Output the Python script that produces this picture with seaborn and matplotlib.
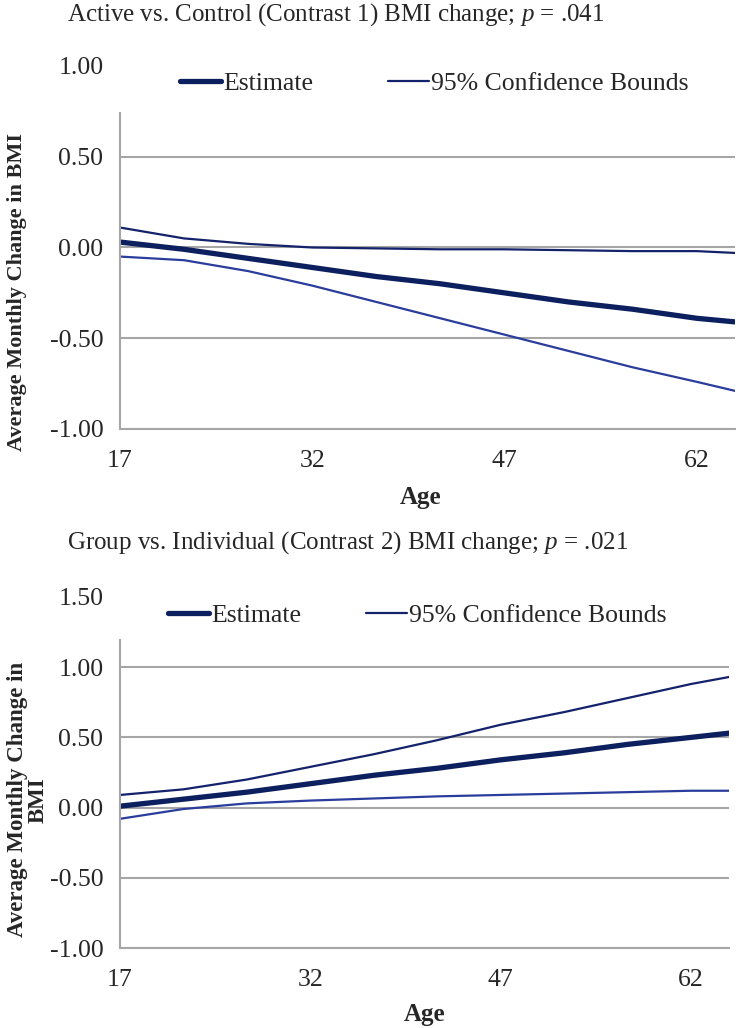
import numpy as np
import pandas as pd
import matplotlib
matplotlib.use("Agg")
import matplotlib.pyplot as plt
import seaborn as sns

# ages along the x axis
ages = [17, 22, 27, 32, 37, 42, 47, 52, 57, 62, 65]

# Contrast 1: Active vs. Control
c1_estimate = [0.03, -0.01, -0.06, -0.11, -0.16, -0.20, -0.25, -0.30, -0.34, -0.39, -0.41]
c1_upper = [0.11, 0.05, 0.02, 0.00, -0.005, -0.01, -0.01, -0.015, -0.02, -0.02, -0.03]
c1_lower = [-0.05, -0.07, -0.13, -0.21, -0.30, -0.39, -0.48, -0.57, -0.66, -0.74, -0.79]

# Contrast 2: Group vs. Individual
c2_estimate = [0.01, 0.06, 0.11, 0.17, 0.23, 0.28, 0.34, 0.39, 0.45, 0.50, 0.53]
c2_upper = [0.09, 0.13, 0.20, 0.29, 0.38, 0.48, 0.59, 0.68, 0.78, 0.88, 0.93]
c2_lower = [-0.08, -0.01, 0.03, 0.05, 0.065, 0.08, 0.09, 0.10, 0.11, 0.12, 0.12]

x_ticks = [17, 32, 47, 62]

sns.set_style("white")
plt.rcParams["font.family"] = ["Liberation Serif", "DejaVu Serif"]
plt.rcParams["mathtext.fontset"] = "custom"
plt.rcParams["mathtext.it"] = "Liberation Serif:italic"
plt.rcParams["mathtext.rm"] = "Liberation Serif"

EST_COLOR = "#0c1f5e"
UP_COLOR = "#13226b"
LOW_COLOR = "#2a3d9c"
GRID = "#a6a6a6"
FS = 18.5


def draw_panel(ax, est, upper, lower, yticks, ylim, top_bound, xmax):
    df = pd.DataFrame({"age": ages, "est": est, "up": upper, "low": lower})
    sns.lineplot(data=df, x="age", y="est", ax=ax, color=EST_COLOR, lw=3.8, label="Estimate")
    sns.lineplot(data=df, x="age", y="up", ax=ax, color=UP_COLOR, lw=1.6, label="95% Confidence Bounds")
    sns.lineplot(data=df, x="age", y="low", ax=ax, color=LOW_COLOR, lw=1.6, label="_nolegend_")

    ax.set_xlim(17, xmax)
    ax.set_ylim(*ylim)
    ax.set_xticks(x_ticks)
    ax.set_yticks(yticks)
    ax.set_yticklabels([f"{t:.2f}" for t in yticks])
    ax.set_xlabel("")
    ax.set_ylabel("")

    # horizontal gridlines (none at the top tick, legend sits there)
    for t in yticks:
        if t < top_bound:
            ax.axhline(t, color=GRID, lw=1.5, zorder=0)

    for s in ["top", "right"]:
        ax.spines[s].set_visible(False)
    ax.spines["left"].set_color(GRID)
    ax.spines["left"].set_linewidth(1.5)
    ax.spines["left"].set_bounds(ylim[0], top_bound)
    ax.spines["bottom"].set_color(GRID)
    ax.spines["bottom"].set_linewidth(1.5)
    ax.tick_params(axis="both", direction="out", length=6, width=1.5, color=GRID,
                   labelsize=FS, pad=6)
    ax.tick_params(axis="x", pad=9)
    ax.get_legend().remove()

    handles, labels = ax.get_legend_handles_labels()
    return handles, labels


fig = plt.figure(figsize=(7.36, 10.28), dpi=100)

ax1 = fig.add_axes([0.163, 0.5827, 0.8357, 0.3531])
h1, l1 = draw_panel(ax1, c1_estimate, c1_upper, c1_lower,
                    [-1.0, -0.5, 0.0, 0.5, 1.0], (-1.0, 1.0), 0.74, 65)

ax2 = fig.add_axes([0.163, 0.0778, 0.8275, 0.3415])
h2, l2 = draw_panel(ax2, c2_estimate, c2_upper, c2_lower,
                    [-1.0, -0.5, 0.0, 0.5, 1.0, 1.5], (-1.0, 1.5), 1.19, 65)

# titles
fig.text(0.091, 0.986, "Active vs. Control (Contrast 1) BMI change; $p$ = .041",
         fontsize=18, va="center", ha="left")
fig.text(0.091, 0.4718, "Group vs. Individual (Contrast 2) BMI change; $p$ = .021",
         fontsize=18, va="center", ha="left")

# legends
fig.legend(h1, l1, loc="center", bbox_to_anchor=(0.59, 0.919), ncol=2, frameon=False,
           fontsize=FS, handlelength=1.6, handletextpad=0.1, columnspacing=2.9)
fig.legend(h2, l2, loc="center", bbox_to_anchor=(0.567, 0.401), ncol=2, frameon=False,
           fontsize=FS, handlelength=1.6, handletextpad=0.1, columnspacing=2.5)

# axis labels
fig.text(0.571, 0.5165, "Age", fontsize=18, fontweight="bold", ha="center", va="center")
fig.text(0.577, 0.0127, "Age", fontsize=18, fontweight="bold", ha="center", va="center")
fig.text(0.023, 0.716, "Average Monthly Change in BMI", fontsize=16, fontweight="bold",
         rotation=90, ha="center", va="center")
fig.text(0.038, 0.222, "Average Monthly Change in\nBMI", fontsize=16.5, fontweight="bold",
         rotation=90, ha="center", va="center", linespacing=1.0, multialignment="center")

fig.savefig("out.png", dpi=100)
